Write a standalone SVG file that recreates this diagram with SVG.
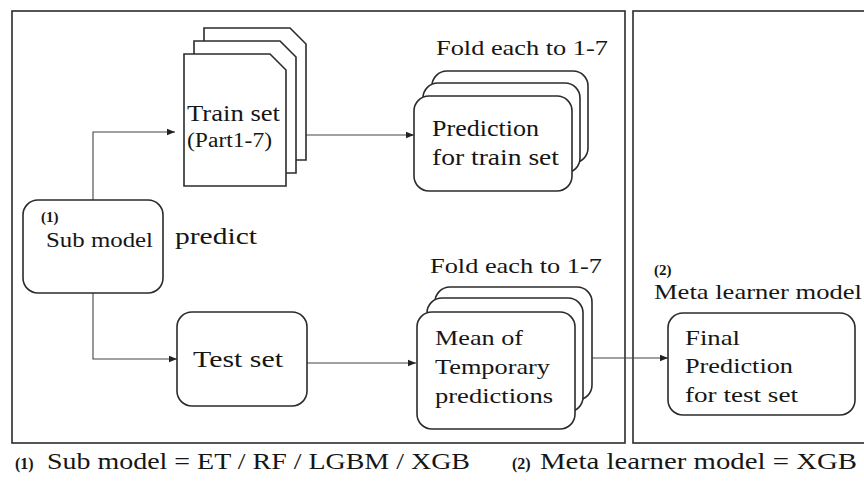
<svg xmlns="http://www.w3.org/2000/svg" width="864" height="484" viewBox="0 0 864 484">
  <style>
    .frame { fill: none; stroke: #2b2b2b; stroke-width: 1.6; }
    .box { fill: #ffffff; stroke: #2b2b2b; stroke-width: 1.6; }
    .wire { fill: none; stroke: #444444; stroke-width: 1.1; }
    .t { font-family: "Liberation Serif", "Times New Roman", serif; font-size: 22px; fill: #161616; }
    .b { font-family: "Liberation Serif", "Times New Roman", serif; font-weight: bold; font-size: 15px; fill: #161616; }
    .n { font-family: "Liberation Serif", "Times New Roman", serif; font-weight: bold; font-size: 16px; fill: #161616; }
  </style>
  <defs>
    <marker id="arrow" viewBox="0 0 10 10" refX="10" refY="5" markerWidth="8" markerHeight="8" markerUnits="userSpaceOnUse" orient="auto">
      <path d="M0,1 L10,5 L0,9 Z" fill="#222222"/>
    </marker>
  </defs>

  <rect width="864" height="484" fill="#ffffff"/>

  <!-- stage frames -->
  <g id="frames">
    <rect class="frame" x="12" y="11" width="613" height="432"/>
    <rect class="frame" x="633" y="11" width="245" height="432"/>
  </g>

  <!-- connectors -->
  <g id="connectors">
    <path class="wire" d="M93,200 V132 H175" marker-end="url(#arrow)"/>
    <path class="wire" d="M93,293 V359 H177" marker-end="url(#arrow)"/>
    <path class="wire" d="M306,135 H414" marker-end="url(#arrow)"/>
    <path class="wire" d="M307,363 H416" marker-end="url(#arrow)"/>
    <path class="wire" d="M592,358 H668" marker-end="url(#arrow)"/>
  </g>

  <g id="sub-model">
    <rect class="box" x="23" y="200" width="140" height="93" rx="15"/>
    <text class="b" x="41" y="222">(1)</text>
    <text class="t" x="46" y="247" style="font-size:21px" textLength="107" lengthAdjust="spacingAndGlyphs">Sub model</text>
  </g>
  <text class="t" x="175" y="244" style="font-size:24px" textLength="82" lengthAdjust="spacingAndGlyphs">predict</text>

  <g id="train-set">
    <path class="box" d="M204,28 H290 L306,44 V160 H204 Z"/>
    <path class="box" d="M194,41 H280 L296,57 V173 H194 Z"/>
    <path class="box" d="M184,54 H270 L286,70 V186 H184 Z"/>
    <text class="t" x="187" y="121" style="font-size:23px" textLength="93" lengthAdjust="spacingAndGlyphs">Train set</text>
    <text class="t" x="187" y="147" style="font-size:20px" textLength="85" lengthAdjust="spacingAndGlyphs">(Part1-7)</text>
  </g>

  <g id="train-prediction">
    <text class="t" x="436" y="55" textLength="172" lengthAdjust="spacingAndGlyphs">Fold each to 1-7</text>
    <rect class="box" x="432" y="71" width="156" height="92" rx="15"/>
    <rect class="box" x="423" y="83" width="157" height="90" rx="15"/>
    <rect class="box" x="414" y="96" width="158" height="95" rx="15"/>
    <text class="t" x="432" y="136" style="font-size:23px" textLength="107" lengthAdjust="spacingAndGlyphs">Prediction</text>
    <text class="t" x="432" y="165" style="font-size:23px" textLength="127" lengthAdjust="spacingAndGlyphs">for train set</text>
  </g>

  <g id="test-set">
    <rect class="box" x="177" y="312" width="130" height="94" rx="15"/>
    <text class="t" x="193" y="367" style="font-size:24px" textLength="90" lengthAdjust="spacingAndGlyphs">Test set</text>
  </g>

  <g id="test-mean">
    <text class="t" x="430" y="273" textLength="172" lengthAdjust="spacingAndGlyphs">Fold each to 1-7</text>
    <rect class="box" x="435" y="287" width="157" height="113" rx="15"/>
    <rect class="box" x="427" y="298" width="156" height="114" rx="15"/>
    <rect class="box" x="417" y="312" width="158" height="117" rx="15"/>
    <text class="t" x="435" y="345" textLength="88" lengthAdjust="spacingAndGlyphs">Mean of</text>
    <text class="t" x="435" y="374" textLength="115" lengthAdjust="spacingAndGlyphs">Temporary</text>
    <text class="t" x="435" y="403" textLength="118" lengthAdjust="spacingAndGlyphs">predictions</text>
  </g>

  <g id="meta-learner">
    <text class="b" x="654" y="275">(2)</text>
    <text class="t" x="654" y="299" style="font-size:21px" textLength="208" lengthAdjust="spacingAndGlyphs">Meta learner model</text>
    <rect class="box" x="668" y="313" width="187" height="102" rx="15"/>
    <text class="t" x="685" y="345" textLength="55" lengthAdjust="spacingAndGlyphs">Final</text>
    <text class="t" x="685" y="373" textLength="108" lengthAdjust="spacingAndGlyphs">Prediction</text>
    <text class="t" x="685" y="402" textLength="113" lengthAdjust="spacingAndGlyphs">for test set</text>
  </g>

  <!-- legend -->
  <g id="legend">
    <text class="n" x="15" y="469">(1)</text>
    <text class="t" x="47" y="469" style="font-size:23px" textLength="423" lengthAdjust="spacingAndGlyphs">Sub model = ET / RF / LGBM / XGB</text>
    <text class="n" x="512" y="469">(2)</text>
    <text class="t" x="540" y="469" style="font-size:23px" textLength="317" lengthAdjust="spacingAndGlyphs">Meta learner model = XGB</text>
  </g>
</svg>
